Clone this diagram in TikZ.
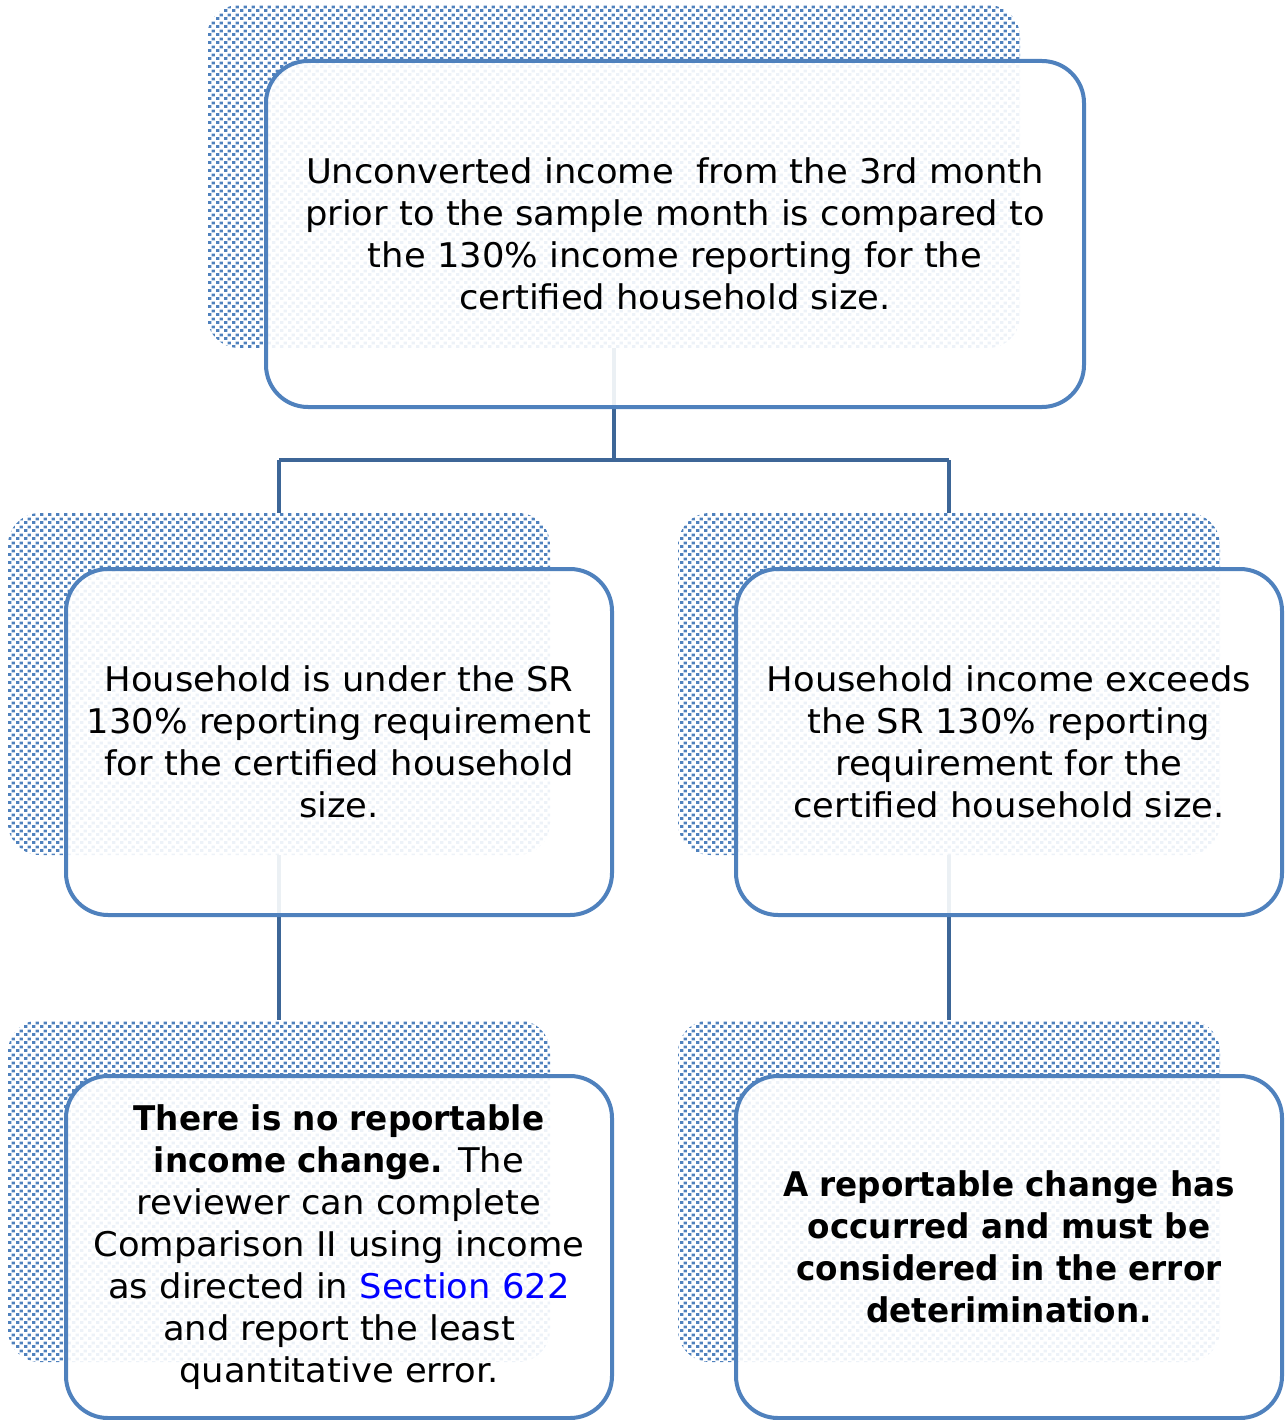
\documentclass[tikz,border=0pt]{standalone}
\usepackage{fontspec}
\setmainfont{DejaVu Sans}[FakeStretch=1.04, BoldFeatures={FakeStretch=0.96}]
\usetikzlibrary{patterns}
\definecolor{boxblue}{HTML}{4F81BD}
\definecolor{linkblue}{HTML}{3D6697}
\pgfdeclarepatternformonly{smallchecks}{\pgfpointorigin}{\pgfpoint{8pt}{8pt}}{\pgfpoint{8pt}{8pt}}{%
  \pgfpathrectangle{\pgfpointorigin}{\pgfpoint{3.7pt}{3.2pt}}%
  \pgfpathrectangle{\pgfpoint{4pt}{4pt}}{\pgfpoint{3.7pt}{3.2pt}}%
  \pgfusepath{fill}}
\begin{document}
\begin{tikzpicture}[x=1pt,y=-1pt,
  backbox/.style={rectangle, rounded corners=32pt, pattern=smallchecks, pattern color=boxblue, draw=none, inner sep=0pt},
  frontbox/.style={rectangle, rounded corners=42pt, draw=boxblue, line width=4pt, fill=white, fill opacity=0.9, text opacity=1, align=center, inner sep=0pt,
    font=\fontsize{34}{42}\selectfont},
  conn/.style={draw=linkblue, line width=4pt}]
\useasboundingbox (0,0) rectangle (1286,1420);
% back boxes
\node[backbox, minimum width=813pt, minimum height=343pt] (tb) at (613.5,176.5) {};
\node[backbox, minimum width=542pt, minimum height=342pt] (lb) at (279,684) {};
\node[backbox, minimum width=542pt, minimum height=342pt] (rb) at (949,684) {};
\node[backbox, minimum width=542pt, minimum height=342pt] (llb) at (279,1191) {};
\node[backbox, minimum width=542pt, minimum height=342pt] (rrb) at (949,1191) {};
% connectors
\coordinate (mid) at (613,460);
\draw[conn] (tb.south) -- (tb.south |- mid);
\draw[conn] (lb.north |- mid) -- (rb.north |- mid);
\draw[conn] (lb.north |- mid) -- (lb.north);
\draw[conn] (rb.north |- mid) -- (rb.north);
\draw[conn] (lb.south) -- (llb.north);
\draw[conn] (rb.south) -- (rrb.north);
% front boxes
\node[frontbox, minimum width=818pt, minimum height=346pt] (tf) at (675,234)
 {Unconverted income\ \ from the 3rd month\\prior to the sample month is compared to\\the 130\% income reporting for the\\certified household size.};
\node[frontbox, minimum width=546pt, minimum height=346pt] (lf) at (339,742)
 {Household is under the SR\\130\% reporting requirement\\for the certified household\\size.};
\node[frontbox, minimum width=546pt, minimum height=346pt] (rf) at (1009,742)
 {Household income exceeds\\the SR 130\% reporting\\requirement for the\\certified household size.};
\node[frontbox, minimum width=546pt, minimum height=342pt] (llf) at (339,1247)
 {\textbf{There is no reportable}\\\textbf{income change.} The\\reviewer can complete\\Comparison II using income\\as directed in \textcolor{blue}{Section 622}\\and report the least\\quantitative error.};
\node[frontbox, minimum width=546pt, minimum height=342pt] (rrf) at (1009,1247)
 {\bfseries A reportable change has\\\bfseries occurred and must be\\\bfseries considered in the error\\\bfseries deterimination.};
\end{tikzpicture}
\end{document}
